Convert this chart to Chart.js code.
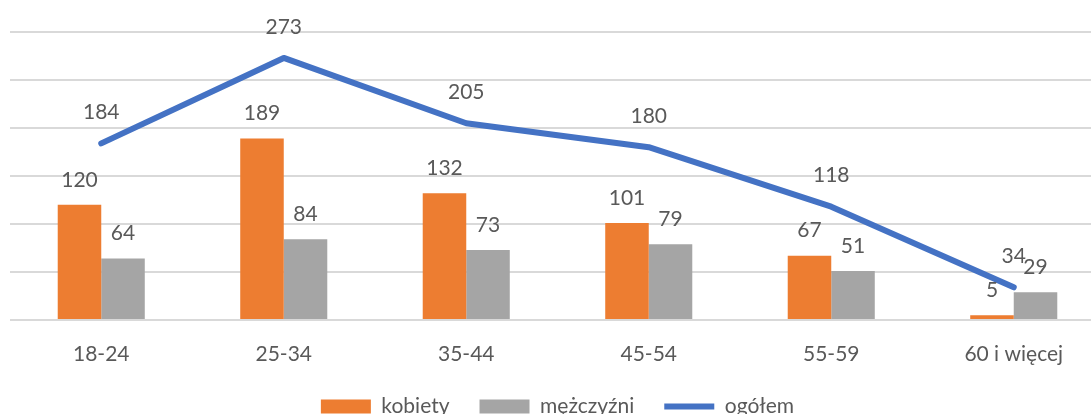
<!DOCTYPE html>
<html>
<head>
<meta charset="utf-8">
<script src="https://cdn.jsdelivr.net/npm/chart.js@4/dist/chart.umd.min.js"></script>
<style>
  html, body { margin: 0; padding: 0; background: #fff; overflow: hidden; }
  canvas { display: block; }
</style>
</head>
<body>
<canvas id="ageChart" width="1110" height="427"></canvas>
<script>
// age groups and counts
const categories = ['18-24', '25-34', '35-44', '45-54', '55-59', '60 i więcej'];
const kobiety = [120, 189, 132, 101, 67, 5];
const mezczyzni = [64, 84, 73, 79, 51, 29];
const ogolem = [184, 273, 205, 180, 118, 34];

const textColor = '#595959';
const fontFamily = 'Lato, "Open Sans", sans-serif';

// draws the value above every bar and line point
const valueLabels = {
  id: 'valueLabels',
  afterDatasetsDraw(chart) {
    const ctx = chart.ctx;
    ctx.save();
    ctx.font = '21px ' + fontFamily;
    ctx.fillStyle = textColor;
    ctx.textAlign = 'center';
    ctx.textBaseline = 'middle';
    chart.data.datasets.forEach((ds, i) => {
      const meta = chart.getDatasetMeta(i);
      const lift = ds.type === 'line' ? 31 : 25;
      meta.data.forEach((el, j) => {
        ctx.fillText(String(ds.data[j]), el.x, el.y - lift);
      });
    });
    ctx.restore();
  }
};

new Chart(document.getElementById('ageChart').getContext('2d'), {
  type: 'bar',
  data: {
    labels: categories,
    datasets: [
      {
        label: 'kobiety',
        data: kobiety,
        backgroundColor: '#ED7D31',
        pointStyle: 'rect',
        categoryPercentage: 0.477,
        barPercentage: 1,
        order: 1
      },
      {
        label: 'mężczyźni',
        data: mezczyzni,
        backgroundColor: '#A5A5A5',
        pointStyle: 'rect',
        categoryPercentage: 0.477,
        barPercentage: 1,
        order: 1
      },
      {
        type: 'line',
        label: 'ogółem',
        data: ogolem,
        borderColor: '#4472C4',
        backgroundColor: '#4472C4',
        borderWidth: 6,
        borderCapStyle: 'round',
        borderJoinStyle: 'round',
        pointRadius: 0,
        pointStyle: 'line',
        tension: 0,
        order: 0
      }
    ]
  },
  options: {
    responsive: false,
    animation: false,
    layout: { padding: { left: 10, right: 5, top: 32, bottom: 0 } },
    scales: {
      x: {
        grid: { display: false },
        border: { display: false },
        ticks: { color: textColor, font: { family: fontFamily, size: 21 }, padding: 14, maxRotation: 0 },
        afterFit: scale => { scale.height = 46; }
      },
      y: {
        min: 0,
        max: 300,
        ticks: { display: false, stepSize: 50 },
        border: { display: false },
        grid: { color: '#d9d9d9', lineWidth: 2, drawTicks: false },
        afterFit: scale => { scale.width = 0; }
      }
    },
    plugins: {
      legend: {
        position: 'bottom',
        labels: {
          usePointStyle: true,
          pointStyleWidth: 50,
          boxHeight: 14,
          padding: 30,
          color: textColor,
          font: { family: fontFamily, size: 21 },
          sort: (a, b) => a.datasetIndex - b.datasetIndex
        }
      },
      tooltip: { enabled: false }
    }
  },
  plugins: [valueLabels]
});
</script>
</body>
</html>
